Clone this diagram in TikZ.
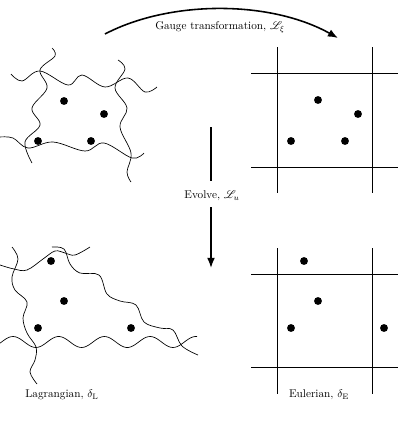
\documentclass[tikz,border=0pt]{standalone}
\usepackage{mathrsfs}
\usetikzlibrary{arrows.meta}

\begin{document}
\begin{tikzpicture}[
   x=0.89pt, y=-0.89pt,
   wave/.style={line width=0.6pt, smooth, tension=0.6},
   gridline/.style={line width=0.7pt},
   particle/.style={circle, fill=black, inner sep=0pt, minimum size=7pt},
   flow/.style={line width=1.4pt, -{Latex[length=9pt,width=7pt]}},
   every node/.append style={font=\normalsize}
]
\useasboundingbox (0,0) rectangle (401,425);

% Lagrangian cell, before
\draw[wave] plot coordinates {(11,74) (22,81) (40,71) (68,85) (82,75) (105,87) (128,78) (145,92) (157,87)};
\draw[wave] plot coordinates {(0,137) (13,138) (28,148) (53,142) (85,151) (104,143) (132,158) (144,153)};
\draw[wave] plot coordinates {(52,48) (55,56) (40,70) (47,88) (32,108) (40,125) (25,142) (32,163)};
\draw[wave] plot coordinates {(118,60) (125,69) (115,88) (127,108) (120,127) (131,153) (127,172) (131,182)};
\node[particle] (la) at (64,101) {};
\node[particle] (lb) at (104,114) {};
\node[particle] (lc) at (38,141) {};
\node[particle] (ld) at (91,141) {};

% Eulerian grid, before
\draw[gridline] (277,47) -- (277,193);
\draw[gridline] (372,47) -- (372,193);
\draw[gridline] (251,73) -- (398,73);
\draw[gridline] (251,167) -- (398,167);
\node[particle] (ea) at (318,100) {};
\node[particle] (eb) at (358,114) {};
\node[particle] (ec) at (291,141) {};
\node[particle] (ed) at (345,141) {};

% Lagrangian cell, after
\draw[wave] plot coordinates {(0,265) (14,269) (27,270) (43,259) (55,251) (65,253) (75,255) (90,247)};
\draw[wave] plot coordinates {(52,247) (64,249) (70,264) (80,273) (99,275) (107,294) (120,301) (136,305) (144,322) (160,328) (173,330) (182,346) (198,355)};
\draw[wave] plot[domain=0:197, samples=90] (\x, {342 - 5.5*cos(7.877*(\x-13))});
\draw[wave] plot coordinates {(12,247) (18,259) (12,277) (15,290) (27,302) (23,318) (27,333) (36,347) (35,360) (30,372) (37,384)};
\node[particle] (lla) at (51,261) {};
\node[particle] (llb) at (64,301) {};
\node[particle] (llc) at (38,328) {};
\node[particle] (lld) at (131,328) {};

% Eulerian grid, after
\draw[gridline] (277,248) -- (277,394);
\draw[gridline] (372,248) -- (372,394);
\draw[gridline] (251,274) -- (398,274);
\draw[gridline] (251,367) -- (398,367);
\node[particle] (eea) at (304,261) {};
\node[particle] (eeb) at (318,301) {};
\node[particle] (eec) at (291,328) {};
\node[particle] (eed) at (384,328) {};

% maps between the pictures
\coordinate (gstart) at (105,34);
\coordinate (gend) at (338,38);
\draw[flow] (gstart) .. controls (170,0) and (270,0) .. (gend);
\node (gauge) at (220,27) {Gauge transformation, $\mathscr{L}_\xi$};

\coordinate (evtop) at (211,127);
\coordinate (evmidA) at (211,181);
\coordinate (evmidB) at (211,207);
\coordinate (evtip) at (211,268);
\node (evolve) at (212,196) {Evolve, $\mathscr{L}_u$};
\draw[line width=1.4pt] (evtop) -- (evmidA);
\draw[flow] (evmidB) -- (evtip);

\node (lagr) at (62,395) {Lagrangian, $\delta_{\mathrm{L}}$};
\node (euler) at (319,395) {Eulerian, $\delta_{\mathrm{E}}$};
\end{tikzpicture}
\end{document}
